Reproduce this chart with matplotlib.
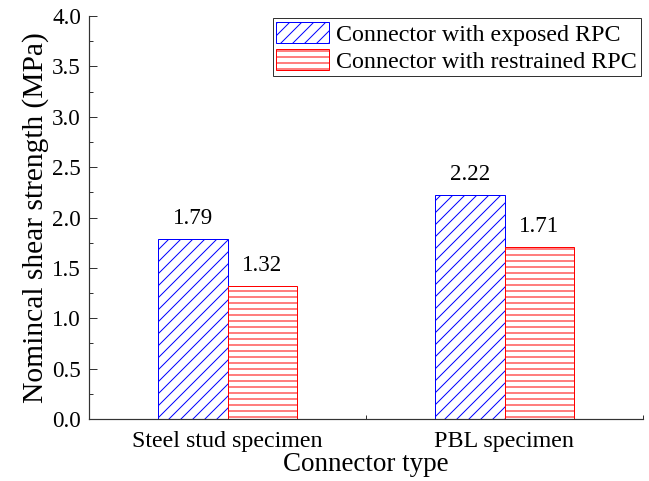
import matplotlib
matplotlib.use("Agg")
from matplotlib import pyplot as plt
from matplotlib.ticker import MultipleLocator, FixedLocator, FormatStrFormatter
import numpy as np

plt.rcParams["font.family"] = ["Liberation Serif", "DejaVu Serif"]
plt.rcParams["hatch.linewidth"] = 1.0

categories = ["Steel stud specimen", "PBL specimen"]
exposed = [1.79, 2.22]
restrained = [1.32, 1.71]
series_names = ["Connector with exposed RPC", "Connector with restrained RPC"]

# dpi 72 so that one point is one pixel
fig = plt.figure(figsize=(649 / 72, 481 / 72), dpi=72)
ax = fig.add_axes([89 / 649, 62 / 481, 554 / 649, 403 / 481])

x = np.arange(1, len(categories) + 1)
w = 0.25
b1 = ax.bar(x - w / 2, exposed, w, facecolor="white", edgecolor="blue",
            hatch="//", linewidth=1.0, label=series_names[0])
b2 = ax.bar(x + w / 2, restrained, w, facecolor="white", edgecolor="red",
            hatch="--", linewidth=1.0, label=series_names[1])

for bars, vals in ((b1, exposed), (b2, restrained)):
    for rect, v in zip(bars, vals):
        ax.annotate(f"{v:.2f}", (rect.get_x() + rect.get_width() / 2, v),
                    xytext=(0, 10), textcoords="offset points",
                    ha="center", va="bottom", fontsize=23)

ax.set_xlim(0.5, 2.5)
ax.set_ylim(0, 4.0)
ax.set_xticks(x)
ax.set_xticklabels(categories, fontsize=24)
ax.xaxis.set_minor_locator(FixedLocator([0.5, 1.5, 2.5]))
ax.yaxis.set_major_locator(MultipleLocator(0.5))
ax.yaxis.set_minor_locator(MultipleLocator(0.25))
ax.yaxis.set_major_formatter(FormatStrFormatter("%.1f"))

axcol = "#333333"
ax.tick_params(axis="y", which="major", direction="in", length=8, width=1.0,
               labelsize=23, pad=8, color=axcol)
ax.tick_params(axis="y", which="minor", direction="in", length=4, width=1.0, color=axcol)
ax.tick_params(axis="x", which="major", length=0, pad=12)
ax.tick_params(axis="x", which="minor", direction="in", length=4, width=1.0, color=axcol)

for s in ("top", "right"):
    ax.spines[s].set_visible(False)
for s in ("left", "bottom"):
    ax.spines[s].set_color(axcol)
    ax.spines[s].set_linewidth(1.2)

ax.set_xlabel("Connector type", fontsize=27, labelpad=0)
ax.set_ylabel("Nomincal shear strength (MPa)", fontsize=29.5, labelpad=3)

leg = ax.legend(loc="upper right", bbox_to_anchor=(1.0, 1.0), borderaxespad=0.1,
                fontsize=24, fancybox=False, edgecolor=axcol, framealpha=1,
                handlelength=2.2, handleheight=1.0, handletextpad=0.3,
                labelspacing=0.12, borderpad=0.15)
leg.get_frame().set_linewidth(1.0)

plt.savefig("out.png", dpi=72)
